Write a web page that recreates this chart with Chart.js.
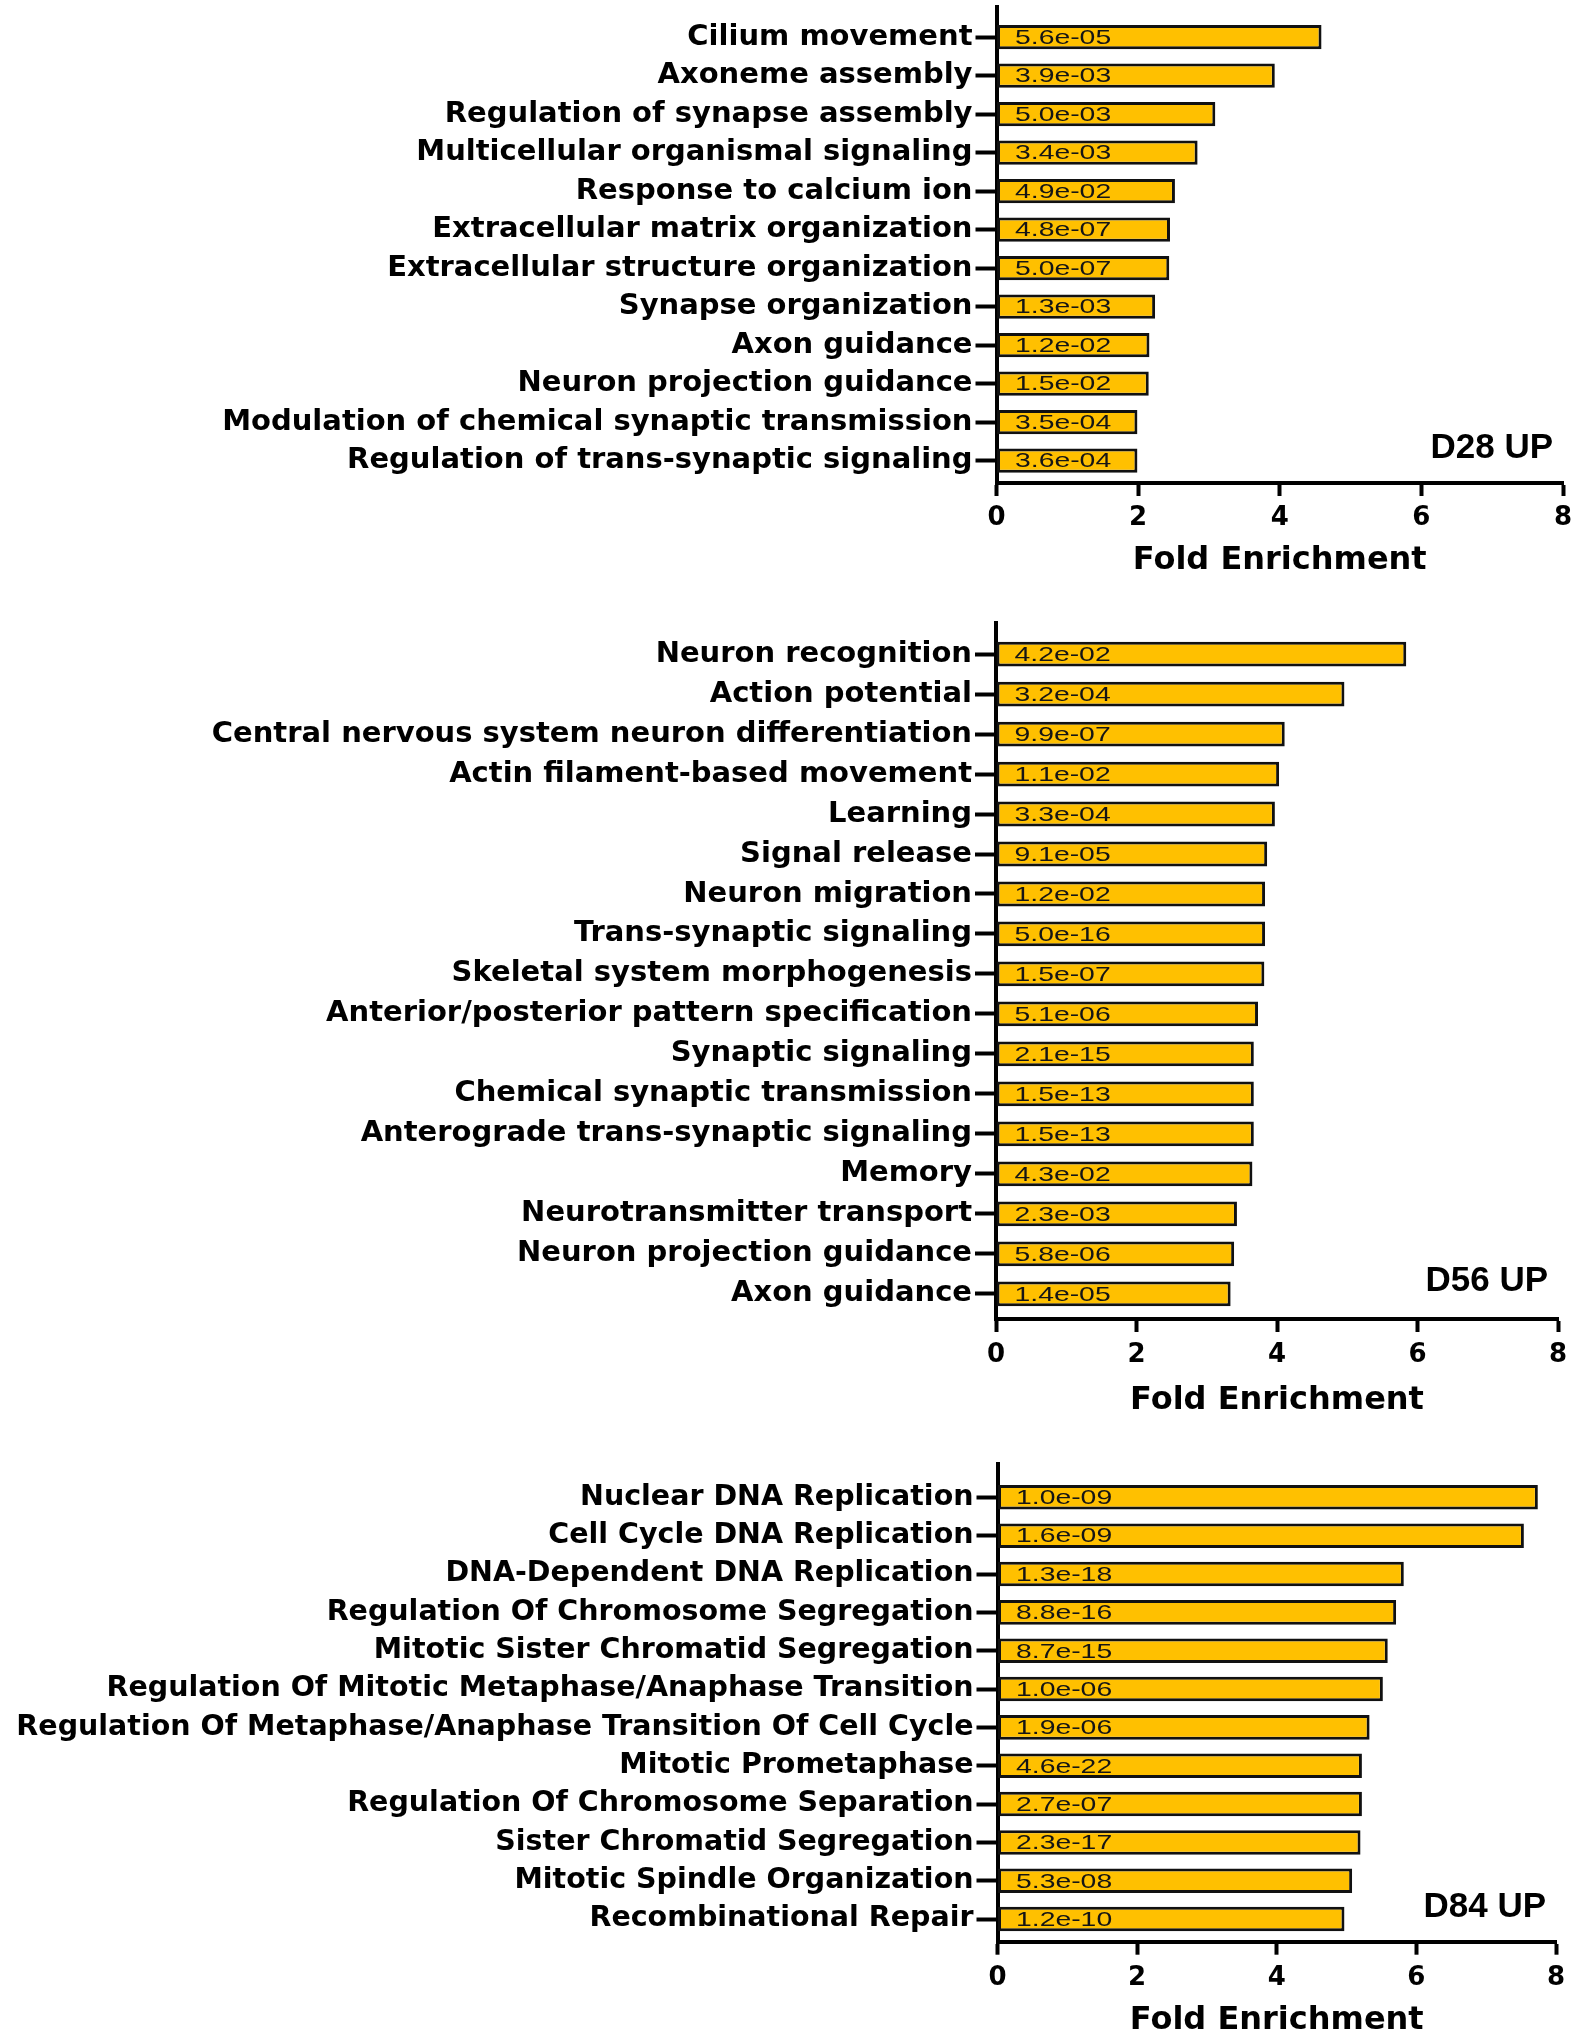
<!DOCTYPE html>
<html>
<head>
<meta charset="utf-8">
<script src="https://cdn.jsdelivr.net/npm/chart.js@4.4.1/dist/chart.umd.min.js"></script>
<style>
  body { margin: 0; background: #fff; }
  #wrap { position: relative; width: 1580px; height: 2040px; }
  canvas { position: absolute; left: 0; }
</style>
</head>
<body>
<div id="wrap">
  <canvas id="d28" width="1580" height="600" style="top:0px"></canvas>
  <canvas id="d56" width="1580" height="840" style="top:600px"></canvas>
  <canvas id="d84" width="1580" height="600" style="top:1440px"></canvas>
</div>
<script>
// D28 UP
const d28Terms = [
  'Cilium movement',
  'Axoneme assembly',
  'Regulation of synapse assembly',
  'Multicellular organismal signaling',
  'Response to calcium ion',
  'Extracellular matrix organization',
  'Extracellular structure organization',
  'Synapse organization',
  'Axon guidance',
  'Neuron projection guidance',
  'Modulation of chemical synaptic transmission',
  'Regulation of trans-synaptic signaling'
];
const d28Fold = [4.59, 3.93, 3.09, 2.84, 2.52, 2.45, 2.44, 2.24, 2.16, 2.15, 1.99, 1.99];
const d28PValues = ['5.6e-05', '3.9e-03', '5.0e-03', '3.4e-03', '4.9e-02', '4.8e-07',
  '5.0e-07', '1.3e-03', '1.2e-02', '1.5e-02', '3.5e-04', '3.6e-04'];

// D56 UP
const d56Terms = [
  'Neuron recognition',
  'Action potential',
  'Central nervous system neuron differentiation',
  'Actin filament-based movement',
  'Learning',
  'Signal release',
  'Neuron migration',
  'Trans-synaptic signaling',
  'Skeletal system morphogenesis',
  'Anterior/posterior pattern specification',
  'Synaptic signaling',
  'Chemical synaptic transmission',
  'Anterograde trans-synaptic signaling',
  'Memory',
  'Neurotransmitter transport',
  'Neuron projection guidance',
  'Axon guidance'
];
const d56Fold = [5.84, 4.96, 4.11, 4.03, 3.97, 3.86, 3.83, 3.83, 3.82, 3.73, 3.67, 3.67, 3.67, 3.65, 3.43, 3.39, 3.34];
const d56PValues = ['4.2e-02', '3.2e-04', '9.9e-07', '1.1e-02', '3.3e-04', '9.1e-05', '1.2e-02',
  '5.0e-16', '1.5e-07', '5.1e-06', '2.1e-15', '1.5e-13', '1.5e-13', '4.3e-02', '2.3e-03',
  '5.8e-06', '1.4e-05'];

// D84 UP
const d84Terms = [
  'Nuclear DNA Replication',
  'Cell Cycle DNA Replication',
  'DNA-Dependent DNA Replication',
  'Regulation Of Chromosome Segregation',
  'Mitotic Sister Chromatid Segregation',
  'Regulation Of Mitotic Metaphase/Anaphase Transition',
  'Regulation Of Metaphase/Anaphase Transition Of Cell Cycle',
  'Mitotic Prometaphase',
  'Regulation Of Chromosome Separation',
  'Sister Chromatid Segregation',
  'Mitotic Spindle Organization',
  'Recombinational Repair'
];
const d84Fold = [7.74, 7.54, 5.82, 5.71, 5.59, 5.52, 5.33, 5.22, 5.22, 5.20, 5.08, 4.97];
const d84PValues = ['1.0e-09', '1.6e-09', '1.3e-18', '8.8e-16', '8.7e-15', '1.0e-06',
  '1.9e-06', '4.6e-22', '2.7e-07', '2.3e-17', '5.3e-08', '1.2e-10'];

const foldTicks = [0, 2, 4, 6, 8];
const axisTitle = 'Fold Enrichment';

// draws the p-value inside each bar and the panel tag
const pValueLabels = {
  id: 'pValueLabels',
  afterDatasetsDraw(chart, args, opts) {
    const ctx = chart.ctx;
    const meta = chart.getDatasetMeta(0);
    ctx.save();
    ctx.fillStyle = '#151515';
    ctx.font = '21px "Liberation Sans", Arial, sans-serif';
    ctx.textBaseline = 'middle';
    ctx.textAlign = 'left';
    meta.data.forEach((bar, i) => {
      ctx.save();
      ctx.translate(bar.base + 18, bar.y + 1);
      ctx.scale(1.35, 1);
      ctx.fillText(opts.pvals[i], 0, 0);
      ctx.restore();
    });
    const last = meta.data[meta.data.length - 1];
    ctx.fillStyle = '#000';
    ctx.font = 'bold 35px "Liberation Sans", Arial, sans-serif';
    ctx.textAlign = 'right';
    ctx.fillText(opts.tag, chart.chartArea.right - 10, last.y - 12);
    ctx.restore();
  }
};

function createEnrichmentChart(canvasId, terms, fold, pvals, tag, box) {
  const ctx = document.getElementById(canvasId);
  if (!ctx) return;
  const canvasHeight = ctx.height;

  new Chart(ctx.getContext('2d'), {
    type: 'bar',
    data: {
      datasets: [{
        data: fold.map((v, i) => ({ x: v, y: i })),
        backgroundColor: '#FFC000',
        borderColor: '#111',
        borderWidth: 3,
        borderSkipped: false,
        barPercentage: box.barPct,
        categoryPercentage: 1,
      }],
    },
    options: {
      indexAxis: 'y',
      responsive: false,
      animation: false,
      layout: {
        padding: { top: box.top, left: 0, right: 1580 - box.right, bottom: 0 },
      },
      plugins: {
        legend: { display: false },
        tooltip: { enabled: false },
        pValueLabels: { pvals: pvals, tag: tag },
      },
      scales: {
        y: {
          type: 'linear',
          reverse: true,
          offset: false,
          min: box.yMin,
          max: box.yMax,
          afterBuildTicks: (scale) => {
            scale.ticks = terms.map((t, i) => ({ value: i }));
          },
          afterFit: (scale) => {
            scale.width = box.left;
            scale.paddingTop = 0;
            scale.paddingBottom = 0;
          },
          ticks: {
            stepSize: 1,
            autoSkip: false,
            padding: 3,
            color: '#000',
            font: { family: 'DejaVu Sans', weight: 'bold', size: box.labelSize },
            callback: (v) => terms[v],
          },
          grid: {
            offset: false,
            drawOnChartArea: false,
            drawTicks: true,
            tickLength: 21,
            tickWidth: 4,
            color: '#000',
          },
          border: { display: true, color: '#000', width: 4 },
        },
        x: {
          type: 'linear',
          position: 'bottom',
          offset: false,
          min: 0,
          max: 8,
          afterBuildTicks: (scale) => {
            scale.ticks = foldTicks.map((v) => ({ value: v }));
          },
          afterFit: (scale) => {
            scale.height = canvasHeight - box.bottom;
            scale.paddingLeft = 0;
            scale.paddingRight = 0;
          },
          ticks: {
            stepSize: 2,
            padding: box.tickPad,
            color: '#000',
            maxRotation: 0,
            font: { family: 'DejaVu Sans', weight: 'bold', size: 26 },
          },
          grid: {
            offset: false,
            drawOnChartArea: false,
            drawTicks: true,
            tickLength: 13,
            tickWidth: 4,
            color: '#000',
          },
          border: { display: true, color: '#000', width: 4 },
          title: {
            display: true,
            text: axisTitle,
            color: '#000',
            font: { family: 'DejaVu Sans', weight: 'bold', size: 32, lineHeight: 1.2 },
            padding: { top: 0, bottom: box.titlePad },
          },
        },
      },
    },
    plugins: [pValueLabels],
  });
}

document.addEventListener('DOMContentLoaded', function() {
  createEnrichmentChart('d28', d28Terms, d28Fold, d28PValues, 'D28 UP', {
    top: 6.7, bottom: 483, left: 996.5, right: 1563,
    yMin: -0.79, yMax: 11.58, barPct: 0.63, labelSize: 29, tickPad: 7, titlePad: 20,
  });
  createEnrichmentChart('d56', d56Terms, d56Fold, d56PValues, 'D56 UP', {
    top: 23.3, bottom: 719, left: 996, right: 1558,
    yMin: -0.77, yMax: 16.63, barPct: 0.62, labelSize: 29, tickPad: 8, titlePad: 20,
  });
  createEnrichmentChart('d84', d84Terms, d84Fold, d84PValues, 'D84 UP', {
    top: 24, bottom: 501.7, left: 997.5, right: 1556,
    yMin: -0.87, yMax: 11.59, barPct: 0.64, labelSize: 28.5, tickPad: 8, titlePad: 0,
  });
});
</script>
</body>
</html>
